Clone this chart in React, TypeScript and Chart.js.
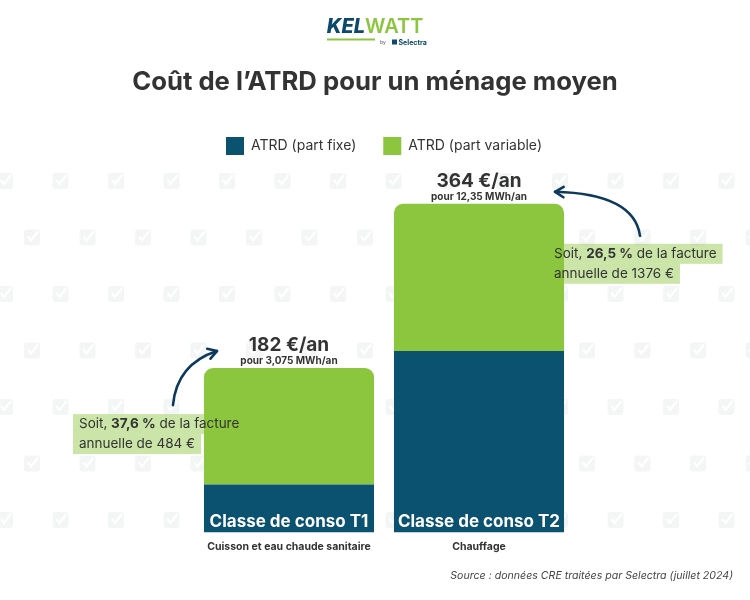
import React, { useEffect, useRef } from "react";
import { Chart, registerables } from "chart.js";

Chart.register(...registerables);

const categories = ["Cuisson et eau chaude sanitaire", "Chauffage"];
const classLabels = ["Classe de conso T1", "Classe de conso T2"];
const seriesNames = ["ATRD (part fixe)", "ATRD (part variable)"];
const fixedPart = [53, 201];
const variablePart = [129, 163];
const totalLabels = ["182 €/an", "364 €/an"];
const consoLabels = ["pour 3,075 MWh/an", "pour 12,35 MWh/an"];
const sharePercent = ["37,6 %", "26,5 %"];
const billTotals = ["484 €", "1376 €"];
const titleText = "Coût de l’ATRD pour un ménage moyen";
const sourceText = "Source : données CRE traitées par Selectra (juillet 2024)";

const FONT = "Inter, 'Noto Sans', sans-serif";
const DARK = "#0b5170";
const GREEN = "#8cc63f";
const TEXT = "#333333";

function drawArrow(ctx: CanvasRenderingContext2D, sx: number, sy: number, cx: number, cy: number, ex: number, ey: number) {
  ctx.save();
  ctx.strokeStyle = "#0d3a5c";
  ctx.lineWidth = 2.6;
  ctx.lineCap = "round";
  ctx.lineJoin = "round";
  ctx.beginPath();
  ctx.moveTo(sx, sy);
  ctx.quadraticCurveTo(cx, cy, ex, ey);
  ctx.stroke();
  const ang = Math.atan2(ey - cy, ex - cx);
  const L = 10;
  ctx.beginPath();
  ctx.moveTo(ex - L * Math.cos(ang - 0.55), ey - L * Math.sin(ang - 0.55));
  ctx.lineTo(ex, ey);
  ctx.lineTo(ex - L * Math.cos(ang + 0.55), ey - L * Math.sin(ang + 0.55));
  ctx.stroke();
  ctx.restore();
}

function drawNote(ctx: CanvasRenderingContext2D, x: number, top: number, pct: string, bill: string) {
  const size = 13.5;
  const reg = `400 ${size}px ${FONT}`;
  const bold = `700 ${size}px ${FONT}`;
  const p1 = "Soit, ";
  const p3 = " de la facture";
  ctx.save();
  ctx.font = reg;
  const w1 = ctx.measureText(p1).width;
  const w3 = ctx.measureText(p3).width;
  ctx.font = bold;
  const w2 = ctx.measureText(pct).width;
  ctx.font = reg;
  const line2 = `annuelle de ${bill}`;
  const wl2 = ctx.measureText(line2).width;
  const pad = 6;
  ctx.fillStyle = "rgba(140,198,63,0.45)";
  ctx.fillRect(x, top, w1 + w2 + w3 + pad * 2, 20);
  ctx.fillRect(x, top + 20, wl2 + pad * 2, 20);
  ctx.fillStyle = TEXT;
  ctx.textBaseline = "middle";
  ctx.textAlign = "left";
  ctx.font = reg;
  ctx.fillText(p1, x + pad, top + 10);
  ctx.font = bold;
  ctx.fillText(pct, x + pad + w1, top + 10);
  ctx.font = reg;
  ctx.fillText(p3, x + pad + w1 + w2, top + 10);
  ctx.fillText(line2, x + pad, top + 30);
  ctx.restore();
}

const decorPlugin = {
  id: "decor",
  beforeDraw(chart: any) {
    const ctx: CanvasRenderingContext2D = chart.ctx;
    ctx.save();
    ctx.fillStyle = "#ffffff";
    ctx.fillRect(0, 0, chart.width, chart.height);
    // watermark checks
    for (let i = 0; i < 7; i++) {
      const y = 181 + 56.5 * i;
      const start = i % 2 === 0 ? 5 : 32;
      for (let x = start; x < 770; x += 55.5) {
        ctx.fillStyle = "#f4f5f5";
        ctx.beginPath();
        (ctx as any).roundRect(x - 8, y - 8, 16, 16, 3);
        ctx.fill();
        ctx.strokeStyle = "#ffffff";
        ctx.lineWidth = 2.2;
        ctx.beginPath();
        ctx.moveTo(x - 4, y - 1);
        ctx.lineTo(x - 1, y + 3);
        ctx.lineTo(x + 6, y - 6);
        ctx.stroke();
      }
    }
    ctx.restore();
  },
  afterDraw(chart: any) {
    const ctx: CanvasRenderingContext2D = chart.ctx;
    ctx.save();
    // Logo
    ctx.textBaseline = "alphabetic";
    ctx.textAlign = "left";
    const kelFont = `italic 800 20px ${FONT}`;
    const wattFont = `600 20px ${FONT}`;
    ctx.font = kelFont;
    const wk = ctx.measureText("KEL").width;
    ctx.font = wattFont;
    const ww = ctx.measureText("WATT").width;
    const lx = 375 - (wk + ww) / 2;
    ctx.font = kelFont;
    ctx.fillStyle = "#0b4a6b";
    ctx.fillText("KEL", lx, 33);
    ctx.font = wattFont;
    ctx.fillStyle = GREEN;
    ctx.fillText("WATT", lx + wk, 33);
    ctx.fillRect(327, 38.5, 48, 2);
    ctx.fillStyle = "#555";
    ctx.font = `400 5px ${FONT}`;
    ctx.fillText("by", 380, 44);
    ctx.fillStyle = "#0b4a6b";
    ctx.fillRect(392, 39.5, 5, 5);
    ctx.font = `700 7px ${FONT}`;
    ctx.fillText("Selectra", 398.5, 44.5);

    // Title
    ctx.textAlign = "center";
    ctx.textBaseline = "middle";
    ctx.fillStyle = TEXT;
    ctx.font = `700 25.7px ${FONT}`;
    ctx.fillText(titleText, 375, 82);

    // Bar labels
    const fixedMeta = chart.getDatasetMeta(0);
    const varMeta = chart.getDatasetMeta(1);
    for (let i = 0; i < categories.length; i++) {
      const fb = fixedMeta.data[i];
      const vb = varMeta.data[i];
      const top = vb.y;
      const cx = fb.x;
      ctx.fillStyle = "#ffffff";
      ctx.font = `700 17px ${FONT}`;
      ctx.textAlign = "center";
      ctx.fillText(classLabels[i], cx, fb.base - 11);
      ctx.fillStyle = TEXT;
      ctx.font = `700 19px ${FONT}`;
      ctx.fillText(totalLabels[i], cx, top - 23);
      ctx.font = `700 10px ${FONT}`;
      ctx.fillText(consoLabels[i], cx, top - 7);
    }

    // Notes and arrows
    const b1 = fixedMeta.data[0];
    const t1 = varMeta.data[0].y;
    const left1 = b1.x - b1.width / 2;
    drawNote(ctx, left1 - 131, t1 + 46, sharePercent[0], billTotals[0]);
    drawArrow(ctx, left1 - 31, t1 + 37, left1 - 27, t1 - 4, left1 + 13, t1 - 17);

    const b2 = fixedMeta.data[1];
    const t2 = varMeta.data[1].y;
    const right2 = b2.x + b2.width / 2;
    drawNote(ctx, right2 - 16, t2 + 40, sharePercent[1], billTotals[1]);
    drawArrow(ctx, right2 + 76, t2 + 32, right2 + 70, t2 - 10, right2 - 9, t2 - 12);

    // Source
    ctx.textAlign = "right";
    ctx.textBaseline = "middle";
    ctx.fillStyle = "#444";
    ctx.font = `italic 400 10.6px ${FONT}`;
    ctx.fillText(sourceText, 733, 576);
    ctx.restore();
  },
};

export default function App() {
  const ref = useRef<HTMLCanvasElement>(null);
  useEffect(() => {
    document.body.style.margin = "0";
    const canvas = ref.current!;
    const chart = new Chart(canvas, {
      type: "bar",
      data: {
        labels: categories,
        datasets: [
          {
            label: seriesNames[0],
            data: fixedPart,
            backgroundColor: DARK,
            barPercentage: 0.895,
            categoryPercentage: 1,
          },
          {
            label: seriesNames[1],
            data: variablePart,
            backgroundColor: GREEN,
            borderRadius: { topLeft: 9, topRight: 9, bottomLeft: 0, bottomRight: 0 },
            borderSkipped: "start",
            barPercentage: 0.895,
            categoryPercentage: 1,
          },
        ],
      },
      options: {
        responsive: false,
        devicePixelRatio: 1,
        animation: false,
        layout: { padding: { left: 194, right: 176, top: 110, bottom: 47 } },
        scales: {
          x: {
            stacked: true,
            grid: { display: false },
            border: { display: false },
            ticks: { color: TEXT, padding: 0, font: { family: FONT, size: 10.5, weight: "bold" } },
          },
          y: { stacked: true, display: false, min: 0, max: 407 },
        },
        plugins: {
          legend: {
            display: true,
            position: "top",
            labels: {
              boxWidth: 18,
              boxHeight: 18,
              padding: 27,
              color: TEXT,
              font: { family: FONT, size: 14 },
            },
          },
          tooltip: { enabled: false },
        },
      } as any,
      plugins: [decorPlugin],
    });
    return () => chart.destroy();
  }, []);
  return (
    <div style={{ width: 750, height: 600 }}>
      <canvas ref={ref} width={750} height={600} style={{ display: "block" }} />
    </div>
  );
}
